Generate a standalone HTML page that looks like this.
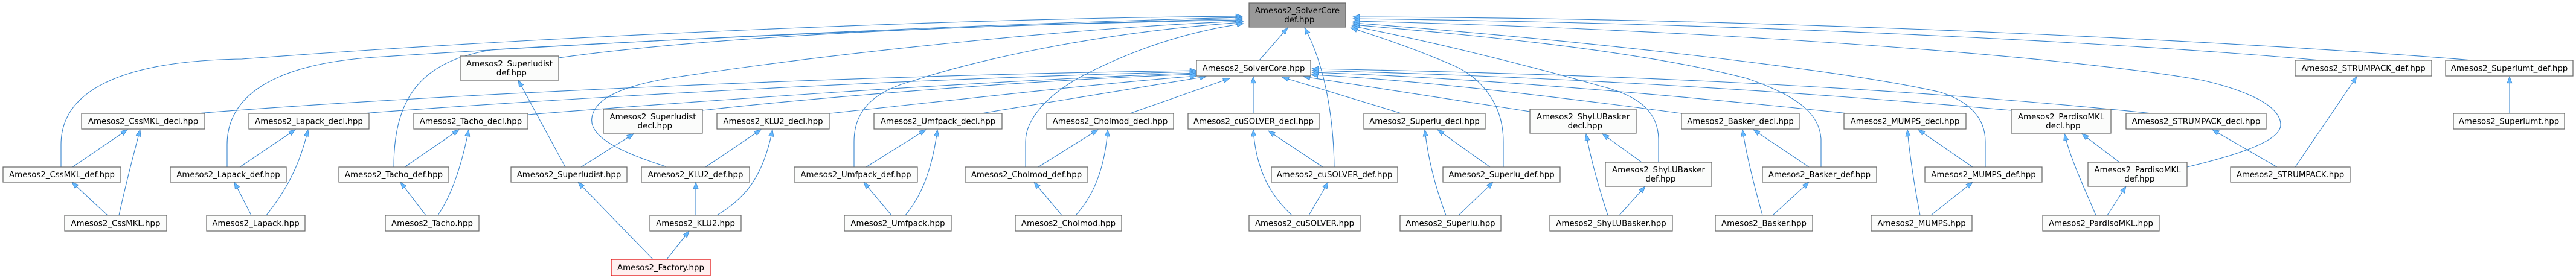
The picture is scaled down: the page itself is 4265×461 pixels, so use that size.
<!DOCTYPE html>
<html><head><meta charset="utf-8"><style>
html,body{margin:0;padding:0;background:#fff;}
svg{display:block;}
text{font-family:"DejaVu Sans","Liberation Sans",sans-serif;font-size:13.33px;fill:#000;text-anchor:middle;}
.n{fill:#fbfcfb;stroke:#666;stroke-width:1.2;}
.e{fill:none;stroke:#3a86ce;stroke-width:1.1;marker-end:url(#a);}
</style></head><body>
<svg width="4265" height="461" viewBox="0 0 4265 461" xmlns="http://www.w3.org/2000/svg">
<defs><marker id="a" viewBox="0 0 12 10" refX="12" refY="5" markerWidth="12" markerHeight="9" orient="auto" markerUnits="userSpaceOnUse"><path d="M0,0.5 L12,5 L0,9.5 z" fill="#63b8ff" stroke="#3a86ce" stroke-width="0.8"/></marker></defs>

<!-- root edges -->
<path class="e" d="M101,277 L101,240 C101,130 250,100 400,98 C900,60 1600,30 2057,27"/>
<path class="e" d="M376,277 L376,240 C376,150 470,105 620,95 C1000,70 1600,40 2057,29"/>
<path class="e" d="M652,277 C652,170 690,100 820,82 C1200,60 1700,40 2057,31"/>
<path class="e" d="M925,96 C1250,50 1800,38 2057,33"/>
<path class="e" d="M1102,276 C1020,250 975,225 980,195 C985,160 1040,140 1120,128 C1400,85 1800,45 2059,35"/>
<path class="e" d="M1414,277 L1414,235 C1414,180 1450,150 1515,133 C1600,105 1800,55 2057,37"/>
<path class="e" d="M1698,277 L1698,235 C1698,200 1730,160 1790,127 C1860,90 1950,55 2059,39"/>
<path class="e" d="M2085,100 L2132,46"/>
<path class="e" d="M2209,277 C2208,200 2195,110 2160,46"/>
<path class="e" d="M2489,277 L2489,235 C2489,170 2450,125 2398,105 C2340,80 2280,60 2236,46"/>
<path class="e" d="M2746,269 L2746,230 C2745,190 2720,160 2651,143 C2500,100 2350,65 2238,43"/>
<path class="e" d="M3015,277 L3015,230 C3012,190 2980,160 2892,130 C2700,80 2400,55 2240,41"/>
<path class="e" d="M3287,277 L3287,235 C3287,195 3260,168 3213,153 C3050,115 2600,65 2240,38"/>
<path class="e" d="M3621,277 C3700,258 3776,235 3776,207 C3776,175 3720,150 3646,133 C3400,90 2800,48 2240,35"/>
<path class="e" d="M3841,100 C3600,78 3000,40 2240,31"/>
<path class="e" d="M4093,100 C3800,75 3000,30 2240,28"/>

<!-- decl -> SolverCore.hpp -->
<path class="e" d="M326,188 C700,158 1400,125 1981,117"/>
<path class="e" d="M601,188 C900,165 1500,130 1981,119"/>
<path class="e" d="M874,190 C1100,172 1600,135 1981,121"/>
<path class="e" d="M1163,183 C1350,162 1700,133 1981,123"/>
<path class="e" d="M1373,188 C1500,175 1800,140 1981,126"/>
<path class="e" d="M1625,188 L1997,127"/>
<path class="e" d="M1871,188 L2036,130"/>
<path class="e" d="M2075,188 L2075,127"/>
<path class="e" d="M2320,188 L2123,128"/>
<path class="e" d="M2533,185 L2158,127"/>
<path class="e" d="M2784,188 C2500,150 2300,130 2171,124"/>
<path class="e" d="M3059,188 C2700,150 2400,128 2172,120"/>
<path class="e" d="M3330,183 C2900,145 2500,125 2172,117"/>
<path class="e" d="M3563,188 C3100,140 2600,122 2172,114"/>

<!-- local edges -->
<path class="e" d="M120,277 L211,215"/>
<path class="e" d="M178,357 L119,302"/>
<path class="e" d="M197,357 C205,320 220,260 232,215"/>
<path class="e" d="M397,277 L489,215"/>
<path class="e" d="M416,357 L388,302"/>
<path class="e" d="M441,357 C470,320 495,280 510,215"/>
<path class="e" d="M670,277 L760,215"/>
<path class="e" d="M705,357 L663,302"/>
<path class="e" d="M725,357 C750,320 765,270 776,215"/>
<path class="e" d="M936,277 L858,133"/>
<path class="e" d="M962,277 L1049,222"/>
<path class="e" d="M1081,430 L957,302"/>
<path class="e" d="M1104,430 L1141,383"/>
<path class="e" d="M1168,277 L1260,215"/>
<path class="e" d="M1152,357 L1152,302"/>
<path class="e" d="M1187,357 C1230,330 1262,300 1279,215"/>
<path class="e" d="M1434,277 L1533,215"/>
<path class="e" d="M1476,357 L1430,302"/>
<path class="e" d="M1499,357 C1530,320 1545,270 1552,215"/>
<path class="e" d="M1719,277 L1818,215"/>
<path class="e" d="M1758,357 L1712,302"/>
<path class="e" d="M1781,357 C1815,320 1830,270 1834,215"/>
<path class="e" d="M2190,277 L2100,217"/>
<path class="e" d="M2139,357 C2110,330 2080,290 2075,215"/>
<path class="e" d="M2167,357 L2199,302"/>
<path class="e" d="M2467,277 L2380,215"/>
<path class="e" d="M2394,357 C2380,320 2365,270 2359,215"/>
<path class="e" d="M2415,357 L2472,302"/>
<path class="e" d="M2718,269 L2653,222"/>
<path class="e" d="M2662,357 C2650,320 2635,270 2626,222"/>
<path class="e" d="M2681,357 L2724,309"/>
<path class="e" d="M2995,277 L2903,215"/>
<path class="e" d="M2918,357 C2905,310 2892,260 2885,215"/>
<path class="e" d="M2935,357 L2995,302"/>
<path class="e" d="M3266,277 L3176,215"/>
<path class="e" d="M3179,357 C3170,310 3162,260 3158,215"/>
<path class="e" d="M3197,357 L3266,302"/>
<path class="e" d="M3509,269 L3447,222"/>
<path class="e" d="M3470,357 C3455,320 3430,270 3418,222"/>
<path class="e" d="M3489,357 L3520,309"/>
<path class="e" d="M3770,277 L3663,215"/>
<path class="e" d="M3800,277 L3902,127"/>
<path class="e" d="M4155,188 L4155,127"/>

<!-- nodes -->
<rect x="2068" y="5" width="160" height="40" fill="#999" stroke="#666" stroke-width="1.2"/>
<text x="2148" y="22">Amesos2_SolverCore</text><text x="2148" y="37">_def.hpp</text>

<rect class="n" x="762" y="93" width="163" height="40"/><text x="843.5" y="110">Amesos2_Superludist</text><text x="843.5" y="125">_def.hpp</text>
<rect class="n" x="1981" y="100" width="189" height="26"/><text x="2075.5" y="117.5">Amesos2_SolverCore.hpp</text>
<rect class="n" x="3800" y="100" width="226" height="26"/><text x="3913" y="117.5">Amesos2_STRUMPACK_def.hpp</text>
<rect class="n" x="4049" y="100" width="211" height="26"/><text x="4154.5" y="117.5">Amesos2_Superlumt_def.hpp</text>

<rect class="n" x="135" y="188" width="204" height="26"/><text x="237" y="205.5">Amesos2_CssMKL_decl.hpp</text>
<rect class="n" x="412" y="188" width="199" height="26"/><text x="511.5" y="205.5">Amesos2_Lapack_decl.hpp</text>
<rect class="n" x="685" y="188" width="189" height="26"/><text x="779.5" y="205.5">Amesos2_Tacho_decl.hpp</text>
<rect class="n" x="999" y="181" width="164" height="40"/><text x="1081" y="198">Amesos2_Superludist</text><text x="1081" y="213">_decl.hpp</text>
<rect class="n" x="1187" y="188" width="186" height="26"/><text x="1280" y="205.5">Amesos2_KLU2_decl.hpp</text>
<rect class="n" x="1447" y="188" width="212" height="26"/><text x="1553" y="205.5">Amesos2_Umfpack_decl.hpp</text>
<rect class="n" x="1733" y="188" width="210" height="26"/><text x="1838" y="205.5">Amesos2_Cholmod_decl.hpp</text>
<rect class="n" x="1967" y="188" width="217" height="26"/><text x="2075.5" y="205.5">Amesos2_cuSOLVER_decl.hpp</text>
<rect class="n" x="2258" y="188" width="201" height="26"/><text x="2358.5" y="205.5">Amesos2_Superlu_decl.hpp</text>
<rect class="n" x="2533" y="181" width="176" height="40"/><text x="2621" y="198">Amesos2_ShyLUBasker</text><text x="2621" y="213">_decl.hpp</text>
<rect class="n" x="2784" y="188" width="195" height="26"/><text x="2881.5" y="205.5">Amesos2_Basker_decl.hpp</text>
<rect class="n" x="3053" y="188" width="202" height="26"/><text x="3154" y="205.5">Amesos2_MUMPS_decl.hpp</text>
<rect class="n" x="3330" y="181" width="165" height="40"/><text x="3412.5" y="198">Amesos2_PardisoMKL</text><text x="3412.5" y="213">_decl.hpp</text>
<rect class="n" x="3520" y="188" width="232" height="26"/><text x="3636" y="205.5">Amesos2_STRUMPACK_decl.hpp</text>
<rect class="n" x="4062" y="188" width="184" height="26"/><text x="4154" y="205.5">Amesos2_Superlumt.hpp</text>

<rect class="n" x="5" y="277" width="195" height="25"/><text x="102.5" y="294">Amesos2_CssMKL_def.hpp</text>
<rect class="n" x="282" y="277" width="192" height="25"/><text x="378" y="294">Amesos2_Lapack_def.hpp</text>
<rect class="n" x="561" y="277" width="182" height="25"/><text x="652" y="294">Amesos2_Tacho_def.hpp</text>
<rect class="n" x="846" y="277" width="192" height="25"/><text x="942" y="294">Amesos2_Superludist.hpp</text>
<rect class="n" x="1062" y="277" width="179" height="25"/><text x="1151.5" y="294">Amesos2_KLU2_def.hpp</text>
<rect class="n" x="1315" y="277" width="204" height="25"/><text x="1417" y="294">Amesos2_Umfpack_def.hpp</text>
<rect class="n" x="1598" y="277" width="203" height="25"/><text x="1699.5" y="294">Amesos2_Cholmod_def.hpp</text>
<rect class="n" x="2105" y="277" width="209" height="25"/><text x="2209.5" y="294">Amesos2_cuSOLVER_def.hpp</text>
<rect class="n" x="2389" y="277" width="194" height="25"/><text x="2486" y="294">Amesos2_Superlu_def.hpp</text>
<rect class="n" x="2658" y="269" width="176" height="40"/><text x="2746" y="286">Amesos2_ShyLUBasker</text><text x="2746" y="301">_def.hpp</text>
<rect class="n" x="2918" y="277" width="189" height="25"/><text x="3012.5" y="294">Amesos2_Basker_def.hpp</text>
<rect class="n" x="3187" y="277" width="194" height="25"/><text x="3284" y="294">Amesos2_MUMPS_def.hpp</text>
<rect class="n" x="3457" y="269" width="164" height="40"/><text x="3539" y="286">Amesos2_PardisoMKL</text><text x="3539" y="301">_def.hpp</text>
<rect class="n" x="3693" y="277" width="198" height="25"/><text x="3792" y="294">Amesos2_STRUMPACK.hpp</text>

<rect class="n" x="107" y="357" width="169" height="26"/><text x="191.5" y="374.5">Amesos2_CssMKL.hpp</text>
<rect class="n" x="342" y="357" width="163" height="26"/><text x="423.5" y="374.5">Amesos2_Lapack.hpp</text>
<rect class="n" x="638" y="357" width="155" height="26"/><text x="715.5" y="374.5">Amesos2_Tacho.hpp</text>
<rect class="n" x="1076" y="357" width="151" height="26"/><text x="1151.5" y="374.5">Amesos2_KLU2.hpp</text>
<rect class="n" x="1398" y="357" width="177" height="26"/><text x="1486.5" y="374.5">Amesos2_Umfpack.hpp</text>
<rect class="n" x="1681" y="357" width="176" height="26"/><text x="1769" y="374.5">Amesos2_Cholmod.hpp</text>
<rect class="n" x="2068" y="357" width="184" height="26"/><text x="2160" y="374.5">Amesos2_cuSOLVER.hpp</text>
<rect class="n" x="2318" y="357" width="167" height="26"/><text x="2401.5" y="374.5">Amesos2_Superlu.hpp</text>
<rect class="n" x="2566" y="357" width="203" height="26"/><text x="2667.5" y="374.5">Amesos2_ShyLUBasker.hpp</text>
<rect class="n" x="2840" y="357" width="161" height="26"/><text x="2920.5" y="374.5">Amesos2_Basker.hpp</text>
<rect class="n" x="3098" y="357" width="167" height="26"/><text x="3181.5" y="374.5">Amesos2_MUMPS.hpp</text>
<rect class="n" x="3382" y="357" width="193" height="26"/><text x="3478.5" y="374.5">Amesos2_PardisoMKL.hpp</text>

<rect x="1012" y="430" width="164" height="27" fill="#fff0f0" stroke="#e00000" stroke-width="1.2"/><text x="1094" y="448">Amesos2_Factory.hpp</text>
</svg>
</body></html>
